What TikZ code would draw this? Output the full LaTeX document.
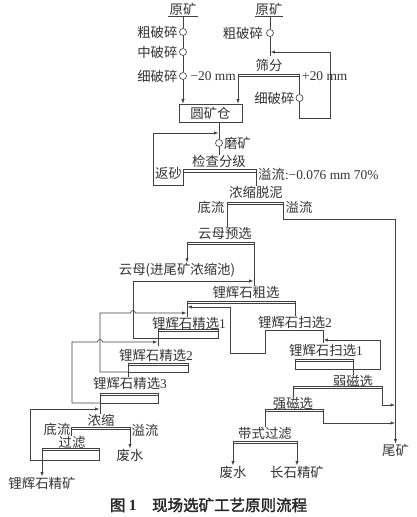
\documentclass[tikz,border=0pt]{standalone}
\usepackage{fontspec}
\setmainfont{Liberation Serif}
\newfontfamily\cjk{Noto Sans CJK SC}
\newfontfamily\cjkbf[FakeBold=2]{Noto Sans CJK SC}
\usetikzlibrary{arrows.meta,positioning}
\tikzset{
  txt/.style={font=\cjk\fontsize{13.4}{14}\selectfont,inner sep=0pt,text=black!80},
  ln/.style={draw=black!75,line width=0.65pt},
  ar/.style={ln,-{Latex[length=4.5pt,width=3.2pt]}},
  mill/.style={circle,ln,minimum size=7pt,inner sep=0pt}
}
\begin{document}
\begin{tikzpicture}[x=1pt,y=-1pt]
            \useasboundingbox (0,0) rectangle (417,517);
            \node[txt] (ore1) at (183,9) {原矿};
            \node[txt] (ore2) at (269,9) {原矿};
            \coordinate (o1) at (183,16);
            \coordinate (o2) at (270,16);
            \draw[ln] (o1) ++(-15,0) -- ++(30,0);
            \draw[ln] (o2) ++(-15,0) -- ++(28,0);
            \node[mill] (m1) at (183,32) {};
            \node[mill] (m2) at (183,52) {};
            \node[mill] (m3) at (183,76) {};
            \node[mill] (m4) at (270,33) {};
            \node[mill] (m5) at (299.5,98) {};
            \node[mill] (m6) at (219,143) {};
            \node[txt,left=1.5pt of m1] (t1) {粗破碎};
            \node[txt,left=1.5pt of m2] (t2) {中破碎};
            \node[txt,left=1.5pt of m3] (t3) {细破碎};
            \node[txt,font=\fontsize{13.4}{14}\selectfont,right=3.5pt of m3] (f1) {−20 mm};
            \node[txt,left=3pt of m4] (t4) {粗破碎};
            \node[txt,left=1pt of m5] (t5) {细破碎};
            \node[txt,right=1pt of m6] (t6) {磨矿};
            \node[txt] (scrt) at (269,65) {筛分};
            \node[txt,font=\fontsize{13.4}{14}\selectfont,anchor=west] (f2) at (302,76) {+20 mm};
            \node[txt,draw=black!75,line width=0.65pt,minimum width=63pt,minimum height=18pt] (bin) at (210.5,113) {圆矿仓};
            \node[txt] (chk) at (219,161) {检查分级};
            \node[txt,anchor=west] (rs) at (155,173) {返砂};
            \node[txt,anchor=west] (ov) at (258,174) {溢流\rmfamily:−0.076 mm 70\%};
            \node[txt] (dsl) at (256,192) {浓缩脱泥};
            \node[txt] (uf1) at (211,207) {底流};
            \node[txt] (of1) at (299,207) {溢流};
            \node[txt] (mic) at (225,233) {云母预选};
            \node[txt] (mtl) at (177,270) {云母(进尾矿浓缩池)};
            \node[txt] (rgh) at (246,292) {锂辉石粗选};
            \node[txt] (c1t) at (189,323) {锂辉石精选\rmfamily 1};
            \node[txt] (s2t) at (295,322) {锂辉石扫选\rmfamily 2};
            \node[txt] (c2t) at (156,355) {锂辉石精选\rmfamily 2};
            \node[txt] (s1t) at (326,350) {锂辉石扫选\rmfamily 1};
            \node[txt] (c3t) at (130,383) {锂辉石精选\rmfamily 3};
            \node[txt] (wmt) at (353,381) {弱磁选};
            \node[txt] (hmt) at (293,403) {强磁选};
            \node[txt] (thkt) at (101,420) {浓缩};
            \node[txt] (uf2) at (57,429) {底流};
            \node[txt] (of2) at (145,430) {溢流};
            \node[txt] (bft) at (265,433) {带式过滤};
            \node[txt] (fltt) at (72,442) {过滤};
            \node[txt] (tail) at (395.5,450) {尾矿};
            \node[txt] (ww1) at (130,455) {废水};
            \node[txt] (ww2) at (233,472) {废水};
            \node[txt] (fsp) at (297,472) {长石精矿};
            \node[txt] (conc) at (42,483) {锂辉石精矿};
            \node[font=\cjkbf\fontsize{15.5}{17}\selectfont,text=black!85,inner sep=0pt] (cap) at (208.5,505) {图 {\rmfamily\bfseries 1}\hspace{1em}现场选矿工艺原则流程};
            \foreach \n/\xa/\xb/\y in {scr/238/299.5/74,cls/183/256/169.5,dsl/227/283/202,mic/187/254/242,rgh/187/295/301,wm/293/382/386,hm/265/323/409,bf/233/297/441,thk/71/130/427}{
                    \draw[ln] (\xa,\y) rectangle (\xb,\y+2.5);
                    \coordinate (\n-l) at (\xa,\y+2.5);
                    \coordinate (\n-r) at (\xb,\y+2.5);
                }
            \foreach \n/\xa/\xb/\ya/\yb in {cl1/158/218/329/338,cl2/128/188/363/372,cl3/100/158/393/403,sc1/295/353/359/369,flt/42/99/448/460}{
                    \draw[ln] (\xa,\ya) rectangle (\xb,\yb) (\xa,\ya+2.5) -- (\xb,\ya+2.5);
                    \coordinate (\n-a) at (\xa,\yb);
                    \coordinate (\n-b) at (\xb,\yb);
                }
            \coordinate (sc2-l) at (265,330);
            \coordinate (sc2-r) at (323,330);
            \draw[ln] (sc2-l) -- (sc2-r);
            \draw[ln] (o1) -- (m1) (m1) -- (m2) (m2) -- (m3);
            \draw[ar] (m3) -- (m3 |- bin.north);
            \draw[ln] (o2) -- (m4) (m4) -- (270,56);
            \draw[ar] (scr-l) -- (scr-l |- bin.north);
            \draw[ln] (scr-r) -- (m5);
            \draw[ar] (m5) |- (330,118) -- (330,52) -- (270.4,52);
            \draw[ln] (bin.south -| m6) -- (m6);
            \draw[ln] (m6) -- (chk);
            \draw[ar] (cls-l) -- (183,185) -| (153,133) -- (218.6,133);
            \draw[ln] (cls-r) -- (dsl);
            \draw[ln] (dsl-l) -- (dsl-l |- mic.north);
            \draw[ar] (dsl-r) |- (395.5,219) -- (tail.north);
            \draw[ar] (mic-l) -- (mic-l |- mtl.north);
            \draw[ln] (mic-r) -- (mic-r |- rgh.north);
            \draw[ar] (cl1-a) -| (133,281) -- (253.6,281);
            \draw[ln] (rgh-l) -- (rgh-l |- c1t.north);
            \draw[ln] (rgh-r) -- (rgh-r |- s2t.north);
            \draw[ar] (cl2-a) -| (100,313) -- (130.5,313) arc (180:360:2.5) -- (186.6,313);
            \draw[ar] (sc2-l) |- (230,353) |- (187.4,307);
            \draw[ln] (cl1-a) -- (158,346);
            \draw[ar] (cl3-a) -| (72,342) -- (97.5,342) arc (180:360:2.5) -- (157.6,342);
            \draw[ln] (cl2-a) -- (cl2-a |- c3t.north);
            \draw[ln] (cl3-a) -- (cl3-a |- thkt.north);
            \draw[ar] (flt-a) -| (30,409) -- (99.6,409);
            \draw[ln] (thk-l) -- (thk-l |- fltt.north);
            \draw[ar] (thk-r) -- (thk-r |- ww1.north);
            \draw[ar] (flt-a) -- (flt-a |- conc.north);
            \draw[ln] (sc2-r) -- (323,343);
            \draw[ar] (sc1-b) -| (380,340) -- (323.4,340);
            \draw[ln] (sc1-b) -- (sc1-b |- wmt.north);
            \draw[ln] (wm-l) -- (wm-l |- hmt.north);
            \draw[ar] (wm-r) |- (395.1,405);
            \draw[ln] (hm-l) -- (hm-l |- bft.north);
            \draw[ar] (hm-r) |- (395.1,423);
            \draw[ar] (bf-l) -- (bf-l |- ww2.north);
            \draw[ar] (bf-r) -- (bf-r |- fsp.north);
        \end{tikzpicture}
\end{document}
